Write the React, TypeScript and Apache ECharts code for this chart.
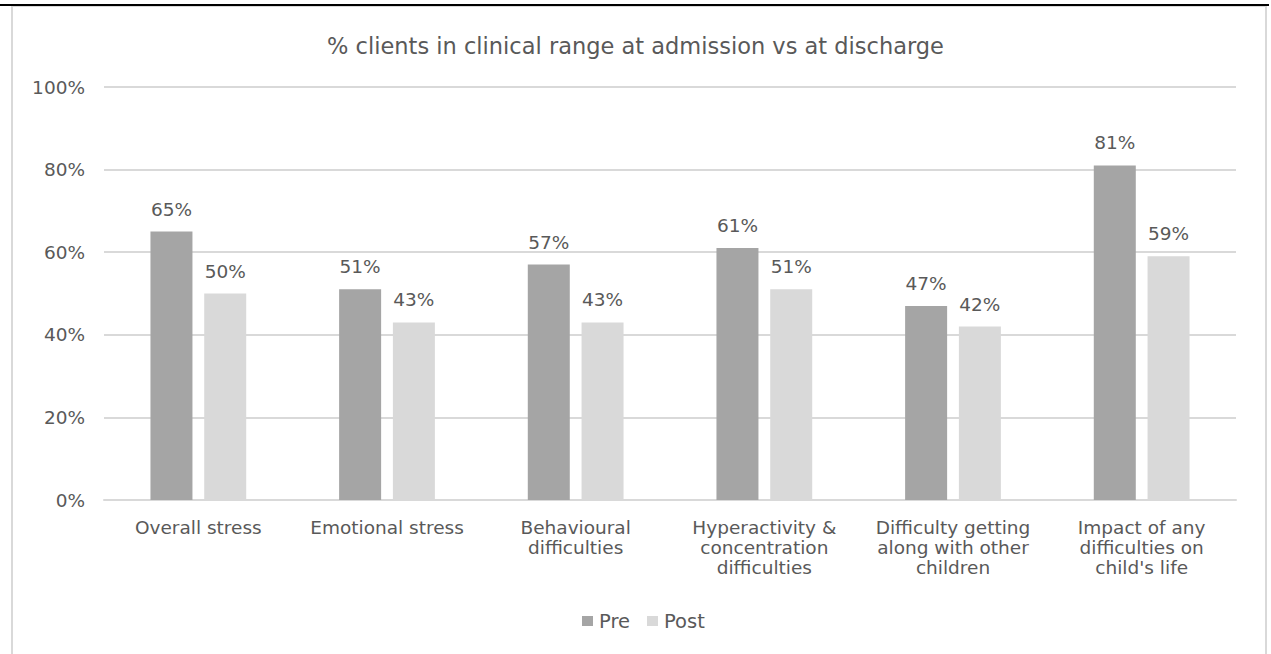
import React, { useEffect, useRef } from "react";
import * as echarts from "echarts";

const categories = [
  "Overall stress",
  "Emotional stress",
  "Behavioural\ndifficulties",
  "Hyperactivity &\nconcentration\ndifficulties",
  "Difficulty getting\nalong with other\nchildren",
  "Impact of any\ndifficulties on\nchild's life",
];
const preValues = [65, 51, 57, 61, 47, 81];
const postValues = [50, 43, 43, 51, 42, 59];
const yTicks = [0, 20, 40, 60, 80, 100];

const TEXT = "#595959";
const FONT = "'DejaVu Sans', Verdana, sans-serif";

export default function App() {
  const ref = useRef<HTMLDivElement>(null);
  useEffect(() => {
    document.body.style.margin = "0";
    const chart = echarts.init(ref.current!, null, { renderer: "svg" });
    const labelStyle = {
      show: true,
      position: "top",
      distance: 13,
      color: TEXT,
      fontSize: 18.5,
      fontFamily: FONT,
      formatter: (p: any) => p.value + "%",
    };
    chart.setOption({
      animation: false,
      backgroundColor: "#ffffff",
      textStyle: { fontFamily: FONT },
      title: {
        text: "% clients in clinical range at admission vs at discharge",
        left: "center",
        top: 29,
        textStyle: { color: TEXT, fontSize: 22.5, fontWeight: "normal", fontFamily: FONT },
      },
      legend: {
        bottom: 18,
        left: 577,
        itemWidth: 11,
        itemHeight: 10,
        itemGap: 17,
        icon: "rect",
        textStyle: { color: TEXT, fontSize: 19.5, fontFamily: FONT, padding: [0, 0, 0, 1] },
        data: ["Pre", "Post"],
      },
      grid: { left: 104, right: 35, top: 87, bottom: 154, containLabel: false },
      xAxis: {
        type: "category",
        data: categories,
        axisLine: { lineStyle: { color: "#D9D9D9", width: 2 } },
        axisTick: { show: false },
        axisLabel: {
          color: TEXT,
          fontSize: 18.5,
          fontFamily: FONT,
          margin: 17,
          lineHeight: 20,
          interval: 0,
        },
      },
      yAxis: {
        type: "value",
        min: 0,
        max: 100,
        interval: 20,
        axisLabel: {
          color: TEXT,
          fontSize: 18.5,
          fontFamily: FONT,
          margin: 19,
          formatter: (v: number) => (yTicks.includes(v) ? v + "%" : ""),
        },
        splitLine: { lineStyle: { color: "#D9D9D9", width: 2 } },
        axisLine: { show: false },
        axisTick: { show: false },
      },
      series: [
        {
          name: "Pre",
          type: "bar",
          data: preValues,
          barWidth: 42,
          barGap: "28%",
          itemStyle: { color: "#A5A5A5" },
          label: labelStyle,
        },
        {
          name: "Post",
          type: "bar",
          data: postValues,
          barWidth: 42,
          itemStyle: { color: "#D9D9D9" },
          label: labelStyle,
        },
      ],
      graphic: [
        {
          type: "rect",
          shape: { x: 12, y: 6, width: 1254, height: 700 },
          style: { fill: "none", stroke: "#D9D9D9", lineWidth: 2 },
          silent: true,
        },
        {
          type: "line",
          shape: { x1: 0, y1: 5, x2: 1269, y2: 5 },
          style: { stroke: "#000000", lineWidth: 2 },
          silent: true,
        },
      ],
    });
    return () => chart.dispose();
  }, []);
  return <div ref={ref} style={{ position: "fixed", left: 0, top: 0, width: 1271, height: 654 }} />;
}
